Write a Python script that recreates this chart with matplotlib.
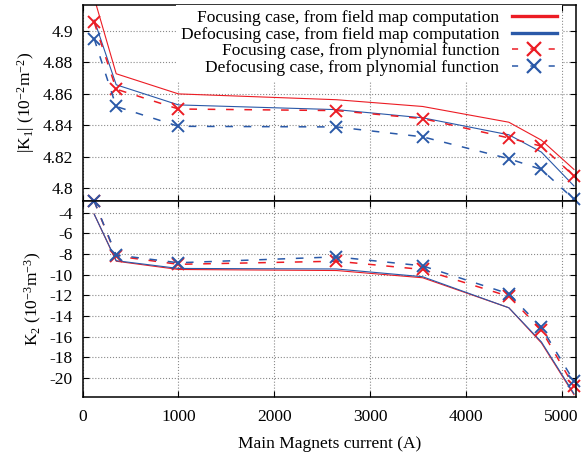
import matplotlib
matplotlib.use('Agg')
from matplotlib import pyplot as plt
from matplotlib.lines import Line2D
from matplotlib.ticker import FormatStrFormatter
import numpy as np

plt.rcParams['font.family'] = ['Liberation Serif', 'DejaVu Serif']
plt.rcParams['mathtext.default'] = 'regular'
plt.rcParams['axes.unicode_minus'] = False
plt.rcParams['font.size'] = 12.5

# main magnets current (A)
current = [120, 350, 1000, 2650, 3550, 4450, 4790, 5130]

# |K1| (1e-2 m^-2)
k1_foc_map = [4.921, 4.8728, 4.860, 4.8563, 4.852, 4.842, 4.8306, 4.812]
k1_def_map = [4.907, 4.8658, 4.853, 4.850, 4.8448, 4.834, 4.823, 4.8015]
k1_foc_poly = [4.9055, 4.863, 4.8504, 4.8494, 4.8443, 4.832, 4.8268, 4.8078]
k1_def_poly = [4.895, 4.852, 4.8394, 4.839, 4.8327, 4.8188, 4.812, 4.793]

# K2 (1e-3 m^-3)
k2_foc_map = [-4.15, -8.7, -9.5, -9.6, -10.3, -13.2, -16.6, -21.6]
k2_def_map = [-4.15, -8.65, -9.4, -9.45, -10.2, -13.2, -16.5, -21.5]
k2_foc_poly = [-2.9, -8.2, -9.0, -8.7, -9.5, -12.1, -15.35, -20.8]
k2_def_poly = [-2.9, -8.1, -8.85, -8.28, -9.15, -11.85, -15.1, -20.3]

labels = ['Focusing case, from field map computation',
          'Defocusing case, from field map computation',
          'Focusing case, from plynomial function',
          'Defocusing case, from plynomial function']

red = '#ec1c24'
blue = '#2a59a8'

fig = plt.figure(figsize=(5.86, 4.55), dpi=100)
gs = fig.add_gridspec(2, 1, left=0.1411, right=0.9824, top=0.989, bottom=0.128, hspace=0)
ax1 = fig.add_subplot(gs[0])
ax2 = fig.add_subplot(gs[1], sharex=ax1)

dash = (5, 7)
for ax, fm, dm, fp, dp in [(ax1, k1_foc_map, k1_def_map, k1_foc_poly, k1_def_poly),
                           (ax2, k2_foc_map, k2_def_map, k2_foc_poly, k2_def_poly)]:
    ax.plot(current, fm, color=red, lw=0.8)
    ax.plot(current, dm, color=blue, lw=0.8)
    ax.plot(current, fp, color=red, lw=1.1, dashes=dash, marker='x', ms=8.5, mew=1.4, clip_on=False)
    ax.plot(current, dp, color=blue, lw=1.1, dashes=dash, marker='x', ms=8.5, mew=1.4, clip_on=False)
    ax.grid(True, ls=':', color='#8a8a8a', lw=0.8)
    ax.tick_params(direction='in', top=True, right=True, length=4, width=0.8)
    ax.tick_params(axis='y', pad=7)
    ax.tick_params(axis='x', pad=9)
    for s in ax.spines.values():
        s.set_linewidth(1.1)

ax1.set_xlim(0, 5148)
ax1.set_ylim(4.792, 4.9165)
ax1.set_yticks([4.8, 4.82, 4.84, 4.86, 4.88, 4.9])
ax1.yaxis.set_major_formatter(FormatStrFormatter('%g'))
ax1.tick_params(labelbottom=False)
ax1.set_ylabel(r'|K$_1$| (10$^{-2}$m$^{-2}$)')

ax2.set_ylim(-21.8, -2.87)
ax2.set_yticks(np.arange(-20, -3, 2))
ax2.set_xticks([0, 1000, 2000, 3000, 4000, 5000])
ax2.set_ylabel(r'K$_2$ (10$^{-3}$m$^{-3}$)')
ax2.set_xlabel('Main Magnets current (A)', labelpad=8)

handles = [Line2D([], [], color=red, lw=2.4),
           Line2D([], [], color=blue, lw=2.4),
           Line2D([], [], color=red, lw=1.1, dashes=(4, 8), marker='x', ms=10, mew=1.6),
           Line2D([], [], color=blue, lw=1.1, dashes=(4, 8), marker='x', ms=10, mew=1.6)]
leg = ax1.legend(handles, labels, loc='upper right', bbox_to_anchor=(0.972, 1.0),
                 markerfirst=False, numpoints=1, handlelength=2.6, handletextpad=0.7,
                 labelspacing=0.02, borderpad=0.3, borderaxespad=0.0, fontsize=12.5,
                 frameon=True, fancybox=False, framealpha=1)
leg.get_frame().set_edgecolor('none')
for t in leg.get_texts():
    t.set_ha('right')
leg._legend_box.align = 'right'

fig.savefig('out.png', dpi=100)
